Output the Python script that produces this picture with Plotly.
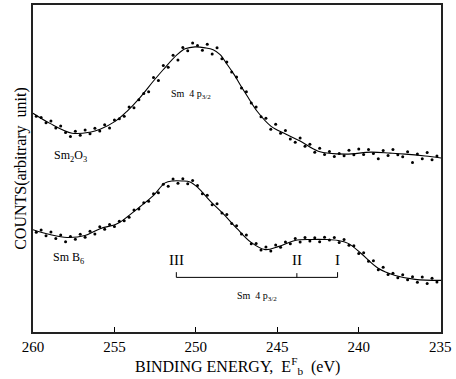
import plotly.graph_objects as go

# ---- Data (binding energy in eV, counts in arbitrary units) ----
# Smooth fitted curves
sm2o3_curve_e = [260.0, 258.96, 257.6, 256.5, 255.88, 254.96, 254.23, 253.43, 252.63, 252.01,
                 251.15, 250.66, 250.05, 249.43, 248.94, 248.51, 248.08, 247.65, 247.29, 246.79,
                 246.24, 245.38, 244.46, 243.6, 242.49, 240.84, 239.24, 238.07, 237.15, 235.92, 234.94]
sm2o3_curve_c = [66.9, 63.8, 60.8, 61.1, 62.0, 64.4, 67.5, 71.7, 76.6, 80.2,
                 84.8, 86.6, 87.2, 86.9, 86.3, 84.8, 81.8, 78.7, 75.7, 71.7,
                 67.5, 62.9, 60.5, 58.4, 55.3, 54.4, 55.0, 54.7, 54.4, 53.8, 53.2]

smb6_curve_e = [260.0, 258.96, 257.91, 256.81, 255.88, 254.84, 254.04, 253.43, 252.63, 251.89,
                251.4, 250.85, 250.36, 249.86, 249.13, 248.33, 247.47, 246.61, 245.75, 244.95,
                243.91, 242.92, 242.06, 241.27, 240.65, 239.85, 238.81, 237.76, 236.54, 234.94]
smb6_curve_c = [31.3, 29.8, 28.9, 29.5, 31.6, 33.1, 35.9, 38.3, 41.6, 45.6,
                46.2, 46.2, 45.9, 44.1, 40.1, 36.2, 31.6, 27.4, 25.2, 26.1,
                28.0, 28.3, 28.3, 28.0, 27.1, 24.0, 19.5, 17.3, 16.1, 15.8]

# Measured points
dots_e = [259.8, 259.5, 259.2, 258.9, 258.6, 258.3, 258.0, 257.7, 257.4, 257.1,
          256.8, 256.5, 256.2, 255.9, 255.6, 255.3, 255.0, 254.7, 254.4, 254.1,
          253.8, 253.5, 253.2, 252.9, 252.6, 252.3, 252.0, 251.7, 251.4, 251.1,
          250.8, 250.5, 250.2, 249.9, 249.6, 249.3, 249.0, 248.7, 248.4, 248.1,
          247.8, 247.5, 247.2, 246.9, 246.6, 246.3, 246.0, 245.7, 245.4, 245.1,
          244.8, 244.5, 244.2, 243.9, 243.6, 243.3, 243.0, 242.7, 242.4, 242.1,
          241.8, 241.5, 241.2, 240.9, 240.6, 240.3, 240.0, 239.7, 239.4, 239.1,
          238.8, 238.5, 238.2, 237.9, 237.6, 237.3, 237.0, 236.7, 236.4, 236.1,
          235.8, 235.5, 235.2]
sm2o3_dots_c = [66.0, 65.6, 64.0, 64.5, 62.4, 63.0, 61.0, 59.8, 61.4, 60.2,
                61.8, 60.6, 62.3, 61.5, 63.4, 62.4, 64.8, 65.2, 66.0, 68.8,
                68.6, 71.0, 72.9, 73.5, 77.8, 76.9, 81.5, 81.0, 84.6, 83.2,
                87.0, 86.0, 88.4, 87.6, 86.2, 88.0, 85.0, 86.9, 83.6, 82.6,
                79.5, 78.0, 74.6, 73.5, 70.0, 68.8, 65.8, 65.4, 62.0, 63.5,
                60.8, 61.6, 59.0, 58.0, 59.3, 56.8, 57.4, 55.0, 56.2, 54.3,
                55.2, 53.7, 54.6, 53.9, 55.6, 54.2, 56.0, 54.3, 55.8, 54.6,
                53.0, 55.5, 54.0, 55.8, 54.2, 53.6, 55.1, 51.8, 54.4, 53.0,
                54.9, 52.7, 53.8]
smb6_dots_c = [30.5, 31.2, 29.4, 30.6, 28.6, 29.7, 27.6, 29.2, 28.4, 29.9,
               29.0, 30.8, 30.0, 32.2, 31.4, 32.9, 32.3, 33.9, 34.0, 35.1,
               37.3, 37.6, 39.5, 40.0, 42.3, 42.6, 45.2, 44.6, 46.8, 45.5,
               46.9, 45.3, 46.3, 44.8, 42.3, 41.8, 38.9, 39.2, 36.4, 35.9,
               33.2, 32.5, 30.0, 29.7, 27.0, 27.1, 25.1, 26.0, 24.8, 26.6,
               25.9, 27.5, 27.0, 28.6, 27.5, 28.9, 27.8, 28.8, 27.6, 29.0,
               28.1, 28.9, 27.4, 28.3, 26.5, 26.4, 24.0, 24.2, 21.6, 21.8,
               19.0, 19.8, 17.6, 18.0, 16.6, 17.5, 16.0, 16.9, 15.2, 16.8,
               14.8, 16.4, 15.3]

# Peak components of SmB6 Sm 4p3/2
peak_labels = ["III", "II", "I"]
peak_e = [251.2, 243.8, 241.3]
bracket_level = 16.7
tick_top = 18.3
numeral_level = 21.9

x_ticks = [260, 255, 250, 245, 240, 235]

SERIF = "Liberation Serif, Times New Roman, serif"

fig = go.Figure()
for e, c in [(sm2o3_curve_e, sm2o3_curve_c), (smb6_curve_e, smb6_curve_c)]:
    fig.add_trace(go.Scatter(x=e, y=c, mode="lines",
                             line=dict(color="black", width=1.1, shape="spline", smoothing=1.0),
                             hoverinfo="skip", showlegend=False))
for c in [sm2o3_dots_c, smb6_dots_c]:
    fig.add_trace(go.Scatter(x=dots_e, y=c, mode="markers",
                             marker=dict(color="black", size=3, symbol="circle"),
                             showlegend=False))

# bracket: horizontal bar with end/middle ticks
bx = [peak_e[0], peak_e[0], None, peak_e[0], peak_e[2], None, peak_e[1], peak_e[1], None, peak_e[2], peak_e[2]]
by = [tick_top, bracket_level, None, bracket_level, bracket_level, None, bracket_level, tick_top - 0.3, None, bracket_level, tick_top]
fig.add_trace(go.Scatter(x=bx, y=by, mode="lines", line=dict(color="black", width=1),
                         hoverinfo="skip", showlegend=False))

ann = []
for lab, e in zip(peak_labels, peak_e):
    ann.append(dict(x=e, y=numeral_level, text=lab, showarrow=False,
                    font=dict(family=SERIF, size=15, color="black")))
ann += [
    dict(x=250.3, y=72.6, text="Sm  4 p<sub>3/2</sub>", showarrow=False,
         font=dict(family=SERIF, size=10, color="black")),
    dict(x=246.24, y=11.0, text="Sm  4 p<sub>3/2</sub>", showarrow=False,
         font=dict(family=SERIF, size=10, color="black")),
    dict(x=257.7, y=53.8, text="Sm<sub>2</sub>O<sub>3</sub>", showarrow=False,
         font=dict(family=SERIF, size=12, color="black")),
    dict(x=257.8, y=22.5, text="Sm B<sub>6</sub>", showarrow=False,
         font=dict(family=SERIF, size=12, color="black")),
    dict(xref="paper", yref="paper", x=0.5, y=-0.064, yanchor="top",
         text="BINDING ENERGY,  E<sup>F</sup><sub>b</sub>  (eV)", showarrow=False,
         font=dict(family=SERIF, size=16, color="black")),
    dict(xref="paper", yref="paper", x=-0.058, y=0.5, textangle=-90,
         text="COUNTS(arbitrary  unit)", showarrow=False,
         font=dict(family=SERIF, size=16, color="black")),
]

fig.update_layout(
    width=456, height=379,
    margin=dict(l=33, r=15, t=3, b=47),
    paper_bgcolor="white", plot_bgcolor="white",
    annotations=ann,
    xaxis=dict(range=[260, 234.95], tickvals=x_ticks, ticktext=[str(t) for t in x_ticks],
               ticks="inside", ticklen=5, tickcolor="black", tickwidth=1,
               showline=True, linecolor="#222", linewidth=1.5, mirror=True,
               showgrid=False, zeroline=False,
               tickfont=dict(family=SERIF, size=15, color="black")),
    yaxis=dict(range=[0, 100], showticklabels=False, ticks="",
               showline=True, linecolor="#222", linewidth=1.5, mirror=True,
               showgrid=False, zeroline=False),
)

fig.write_html("out.html", config={"displayModeBar": False},
               post_script="document.body.style.margin='0';document.body.style.overflow='hidden';")
